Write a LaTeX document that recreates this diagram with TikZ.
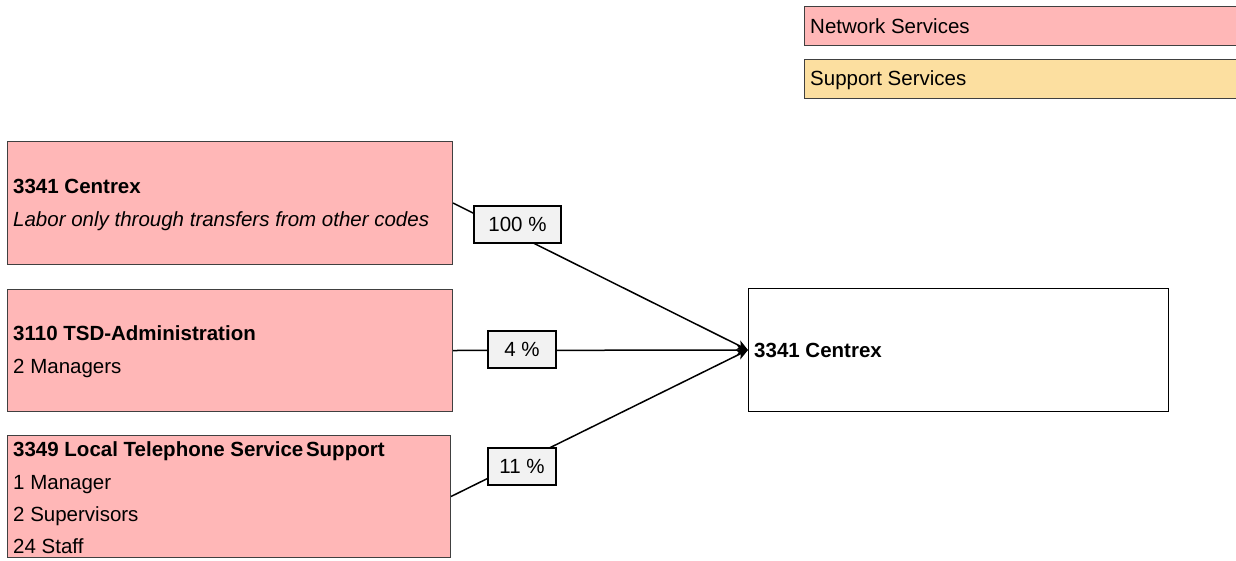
\documentclass[tikz,border=0pt]{standalone}
\usepackage{fontspec}
\setmainfont{Liberation Sans}
\usetikzlibrary{arrows.meta}
\definecolor{netpink}{HTML}{FFB7B7}
\definecolor{suppyel}{HTML}{FCDFA0}
\definecolor{labgray}{HTML}{F2F2F2}
\definecolor{boxline}{HTML}{404040}
\begin{document}
\begin{tikzpicture}[x=1pt,y=-1pt,
  box/.style={draw=boxline, line width=1pt, anchor=north west, inner sep=0pt},
  txt/.style={anchor=base west, inner sep=0pt, font=\fontsize{20.5}{22}\selectfont},
  btxt/.style={txt, font=\fontsize{20.5}{22}\selectfont\bfseries},
  lab/.style={draw=black, fill=labgray, line width=1.1pt, minimum height=37pt, inner sep=0pt, font=\fontsize{20.5}{22}\selectfont},
  conn/.style={line width=1.5pt, -{Stealth[length=11pt,width=10pt,inset=3pt]}}]
\useasboundingbox (0,0) rectangle (1236,560);
% legend
\node[box, fill=netpink, minimum width=432pt, minimum height=39pt] (leg1) at (804,6) {};
\node[txt] (leg1t) at (810,33) {Network Services};
\node[box, fill=suppyel, minimum width=432pt, minimum height=39pt] (leg2) at (804,59) {};
\node[txt] (leg2t) at (810,85) {Support Services};
% source boxes
\node[box, fill=netpink, minimum width=445pt, minimum height=123pt] (A) at (7,141) {};
\node[btxt] (At1) at (13,193) {3341 Centrex};
\node[txt] (At2) at (13,226) {\itshape Labor only through transfers from other codes};
\node[box, fill=netpink, minimum width=445pt, minimum height=122pt] (B) at (7,289) {};
\node[btxt] (Bt1) at (13,340) {3110 TSD-Administration};
\node[txt] (Bt2) at (13,373) {2 Managers};
\node[box, fill=netpink, minimum width=443pt, minimum height=122pt] (C) at (7,435) {};
\node[btxt] (Ct1) at (13,456) {3349 Local Telephone Service\hspace{-3pt} Support};
\node[txt] (Ct2) at (13,489) {1 Manager};
\node[txt] (Ct3) at (13,521) {2 Supervisors};
\node[txt] (Ct4) at (13,553) {24 Staff};
% target
\node[box, draw=black, fill=white, minimum width=420pt, minimum height=123pt] (T) at (748,288) {};
\node[btxt] (Tt) at (754,357) {3341 Centrex};
% connectors
\draw[conn] (A.east) -- (T.west);
\draw[conn] (B.east) -- (T.west);
\draw[conn] (C.east) -- (T.west);
\node[lab, minimum width=87pt] (l1) at (517.5,224.5) {100 \%};
\node[lab, minimum width=68pt] (l2) at (522,349.5) {4 \%};
\node[lab, minimum width=68pt] (l3) at (522,466.5) {11 \%};
\end{tikzpicture}
\end{document}
